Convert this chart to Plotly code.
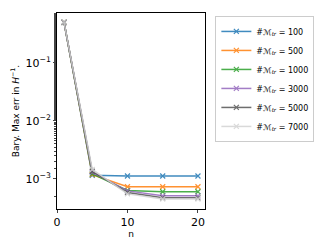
import plotly.graph_objects as go

n_vals = [1, 5, 10, 15, 20]
labels = ["100", "500", "1000", "3000", "5000", "7000"]
err_100 = [0.5, 1.15e-3, 1.12e-3, 1.12e-3, 1.12e-3]
err_500 = [0.5, 1.18e-3, 7.3e-4, 7.3e-4, 7.3e-4]
err_1000 = [0.5, 1.22e-3, 6.3e-4, 6.0e-4, 6.0e-4]
err_3000 = [0.5, 1.3e-3, 6.2e-4, 5.1e-4, 5.1e-4]
err_5000 = [0.5, 1.35e-3, 5.8e-4, 4.7e-4, 4.7e-4]
err_7000 = [0.5, 1.45e-3, 5.5e-4, 4.5e-4, 4.5e-4]
series = [err_100, err_500, err_1000, err_3000, err_5000, err_7000]
colors = ["#1f77b4", "#ff7f0e", "#2ca02c", "#9467bd", "#555555", "#d3d3d3"]

fig = go.Figure()
for lab, ys, c in zip(labels, series, colors):
    fig.add_trace(go.Scatter(
        x=n_vals, y=ys, mode="lines+markers",
        name="#ℳ<sub><i>tr</i></sub> = " + lab,
        line=dict(color=c, width=1.5),
        marker=dict(symbol="x-thin", size=5, line=dict(color=c, width=1.2)),
        opacity=0.85,
    ))

# page body has an 8px default margin, so the figure is 8px smaller
fig.update_layout(
    width=324, height=241,
    margin=dict(l=49, r=127, t=5, b=40),
    plot_bgcolor="white", paper_bgcolor="white",
    font=dict(family="DejaVu Sans", size=10, color="black"),
    legend=dict(x=1.07, y=0.985, xanchor="left", yanchor="top",
                bordercolor="#cccccc", borderwidth=1, bgcolor="white",
                font=dict(size=8), tracegroupgap=0, itemwidth=30),
    showlegend=True,
)
fig.update_xaxes(
    range=[0, 21], tickvals=[0, 10, 20], showgrid=False, zeroline=False,
    showline=True, linecolor="black", linewidth=1, mirror=True,
    ticks="outside", ticklen=3, tickfont=dict(size=11), automargin=False,
    title=dict(text="n", font=dict(size=9), standoff=0),
)
fig.update_yaxes(
    type="log", range=[-3.52, -0.14],
    tickvals=[1e-3, 1e-2, 1e-1],
    ticktext=["10<sup>−3</sup>", "10<sup>−2</sup>", "10<sup>−1</sup>"],
    showgrid=False, zeroline=False, automargin=False,
    showline=True, linecolor="black", linewidth=1, mirror=True,
    ticks="outside", ticklen=3, tickfont=dict(size=11),
    minor=dict(ticks="outside", ticklen=2, showgrid=False),
    title=dict(text="Bary. Max err in <i>H</i><sup>−1</sup>.", font=dict(size=9), standoff=4),
)
fig.write_html("out.html")
